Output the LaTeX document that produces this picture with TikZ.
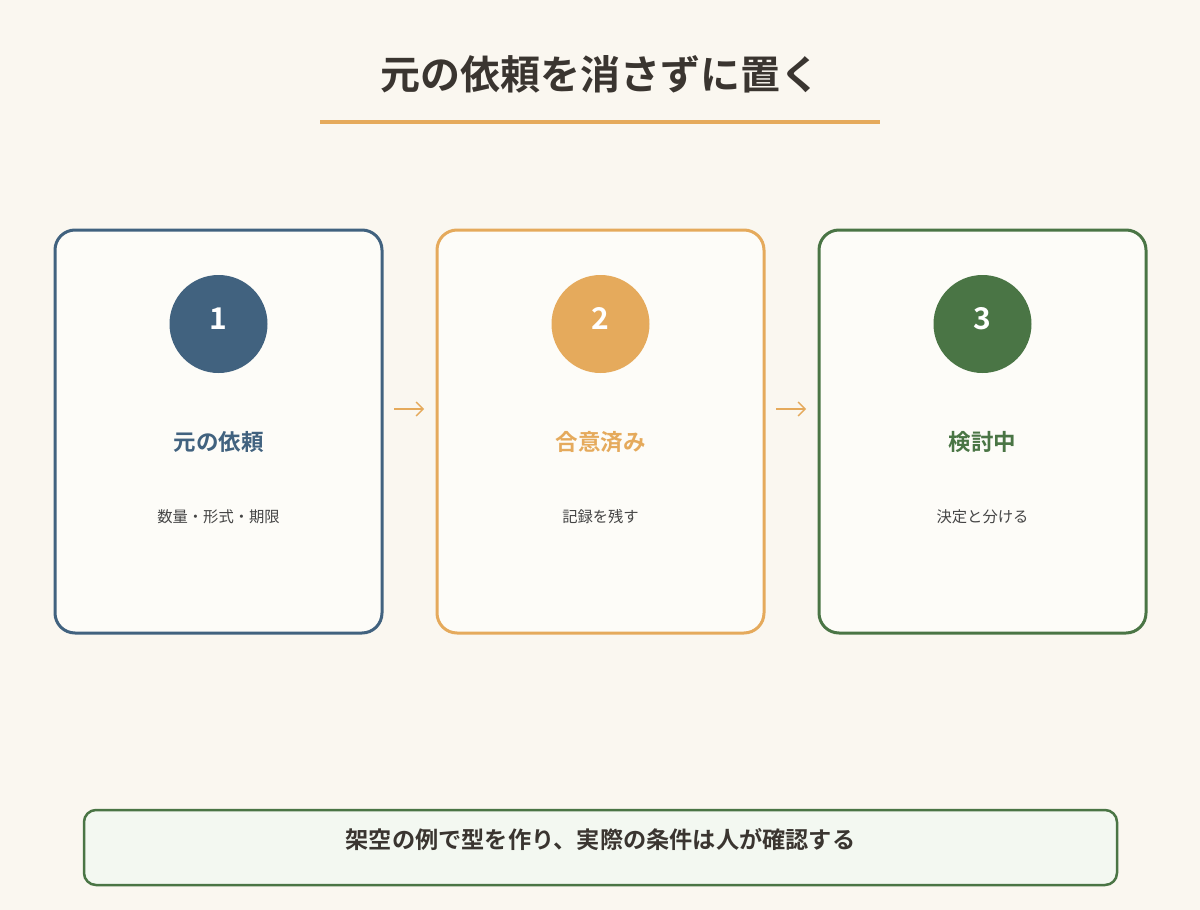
\documentclass[tikz,border=0pt]{standalone}
\usepackage{fontspec}
\setmainfont{Noto Sans CJK JP}
\newfontfamily\cjkb{Noto Sans CJK JP Bold}
\usetikzlibrary{arrows.meta}
\definecolor{bg}{HTML}{FAF7F0}
\definecolor{cardfill}{HTML}{FDFCF8}
\definecolor{cblue}{HTML}{41627F}
\definecolor{corange}{HTML}{E5AA5C}
\definecolor{cgreen}{HTML}{4A7545}
\definecolor{ctext}{HTML}{3A3530}
\definecolor{csub}{HTML}{454545}
\definecolor{notefill}{HTML}{F3F8F1}
\tikzset{
  card/.style={draw=#1, line width=3pt, fill=cardfill, rounded corners=20pt},
  numcircle/.style={circle, fill=#1, minimum size=98pt, inner sep=0pt},
  numtext/.style={text=white, inner sep=0pt, font=\cjkb\fontsize{30}{32}\selectfont},
  heading/.style={text=#1, font=\cjkb\fontsize{22.5}{26}\selectfont},
  subtext/.style={text=csub, font=\fontsize{15.3}{18}\selectfont},
  flow/.style={draw=corange, line width=1.4pt, -{Straight Barb[length=7pt,width=14pt,line width=1.4pt]}},
}
\begin{document}
\begin{tikzpicture}[x=1pt,y=-1pt]
\useasboundingbox (0,0) rectangle (1200,910);
\fill[bg] (0,0) rectangle (1200,910);
% title
\node[text=ctext, font=\cjkb\fontsize{40}{44}\selectfont] (title) at (600,74) {元の依頼を消さずに置く};
\draw[corange, line width=3.5pt] (320,122) -- (880,122);
% cards
\draw[card=cblue] (55,230) rectangle (382,633);
\draw[card=corange] (437,230) rectangle (764,633);
\draw[card=cgreen] (819,230) rectangle (1146,633);
\node[numcircle=cblue] (n1) at (218.5,324) {};
\node[numcircle=corange] (n2) at (600.5,324) {};
\node[numcircle=cgreen] (n3) at (982.5,324) {};
\node[numtext] (t1) at (218.5,318.5) {1};
\node[numtext] (t2) at (600.5,318.5) {2};
\node[numtext] (t3) at (982.5,318.5) {3};
\node[heading=cblue] (h1) at (218.5,442) {元の依頼};
\node[heading=corange] (h2) at (600.5,442) {合意済み};
\node[heading=cgreen] (h3) at (982.5,442) {検討中};
\node[subtext] (s1) at (218.5,517) {数量・形式・期限};
\node[subtext] (s2) at (600.5,517) {記録を残す};
\node[subtext] (s3) at (982.5,517) {決定と分ける};
% arrows
\coordinate (a1s) at (394,409); \coordinate (a1e) at (424,409);
\coordinate (a2s) at (776,409); \coordinate (a2e) at (806,409);
\draw[flow] (a1s) -- (a1e);
\draw[flow] (a2s) -- (a2e);
% note
\draw[draw=cgreen, line width=2.5pt, fill=notefill, rounded corners=12pt] (84,810) rectangle (1117,885);
\node[text=ctext, font=\cjkb\fontsize{23.2}{26}\selectfont] (note) at (600.5,840) {架空の例で型を作り、実際の条件は人が確認する};
\end{tikzpicture}
\end{document}
